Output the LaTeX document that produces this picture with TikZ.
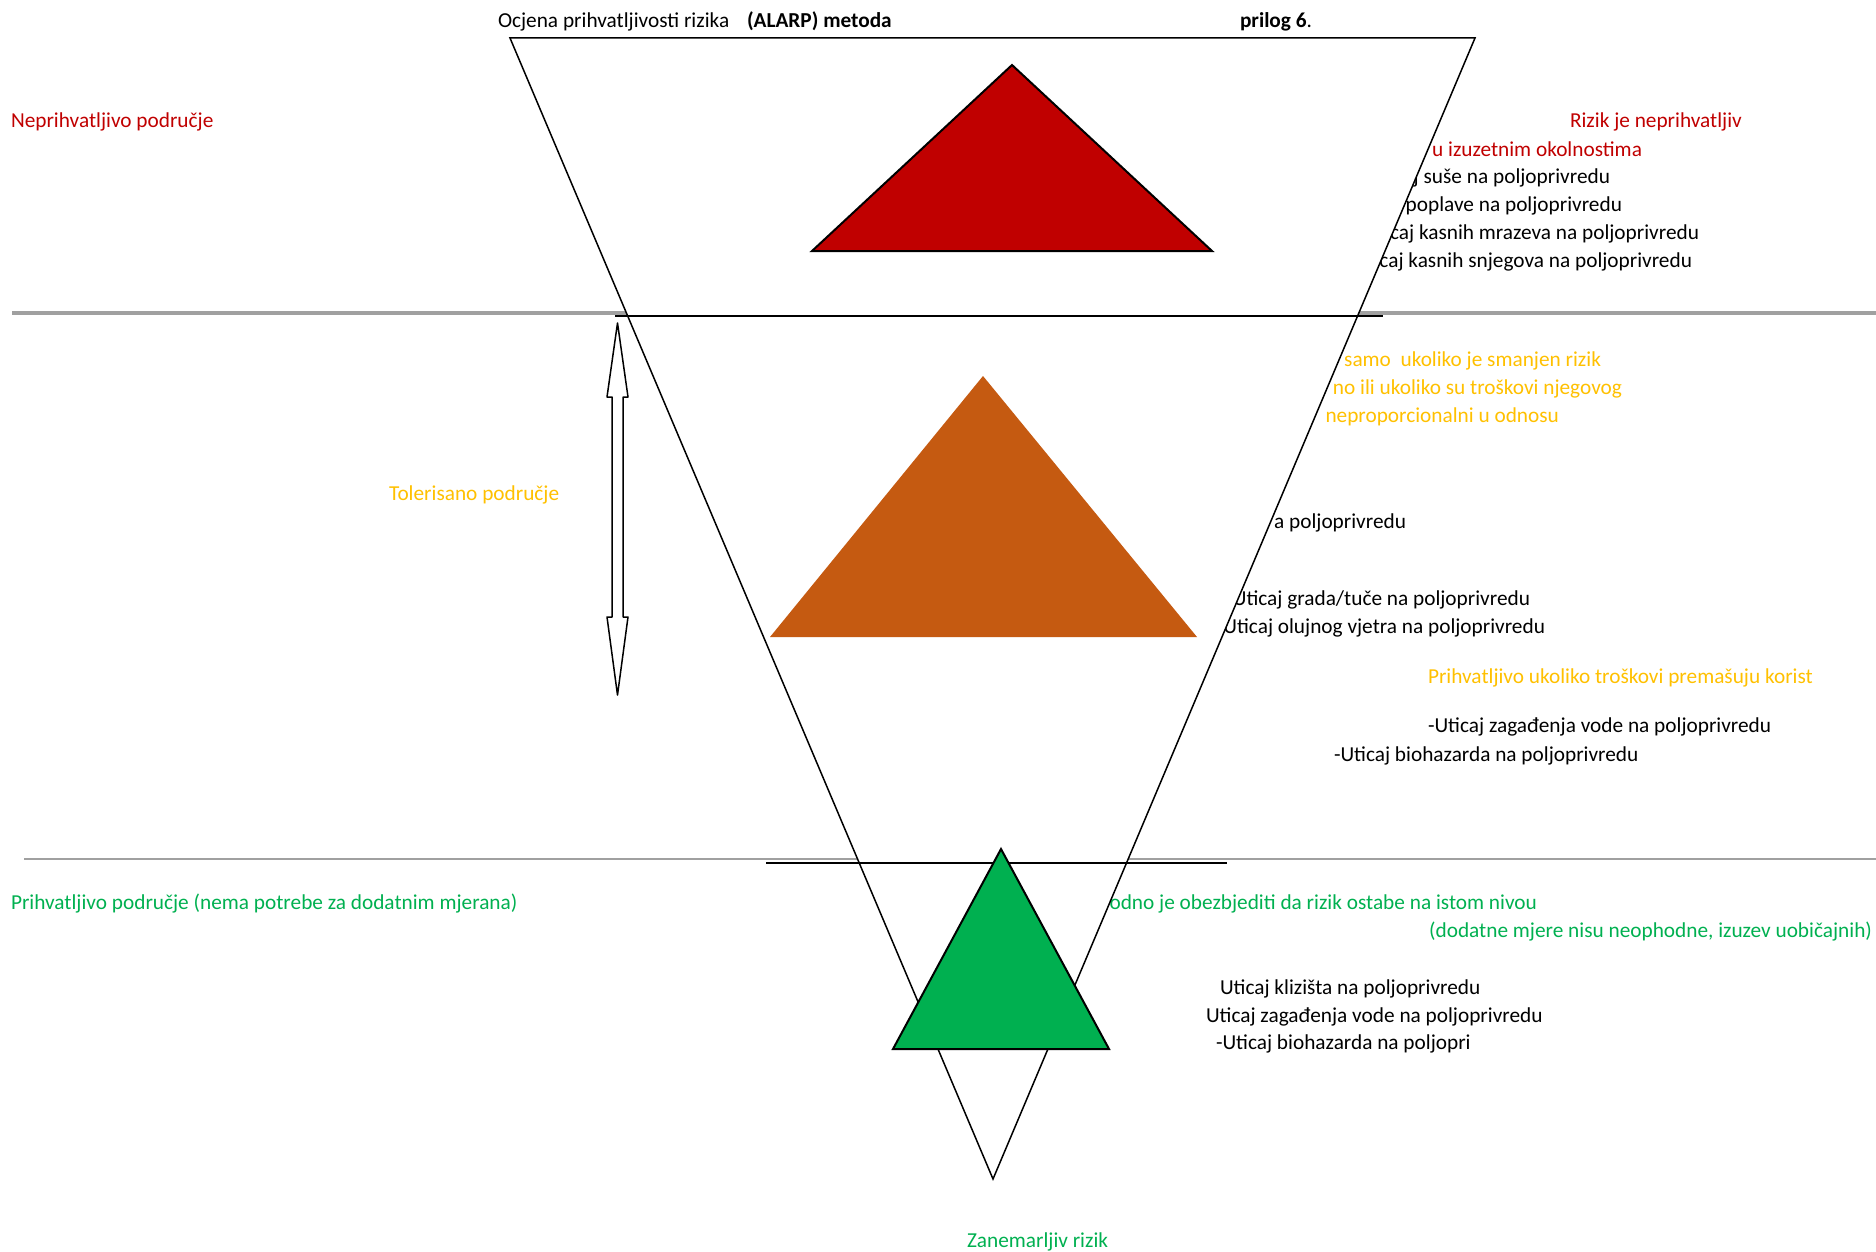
\documentclass[tikz,border=0pt]{standalone}
\usepackage{fontspec}
\setmainfont{Carlito}
\definecolor{riskred}{HTML}{C00000}
\definecolor{tolorange}{HTML}{FFC000}
\definecolor{accgreen}{HTML}{00B050}
\definecolor{midorange}{HTML}{C55A11}
\definecolor{sepgray}{HTML}{A0A0A0}
\begin{document}
\begin{tikzpicture}[x=1pt,y=-1pt,
  font=\fontsize{21.3}{25}\selectfont,
  txt/.style={inner sep=0pt, outer sep=0pt, yshift=-4.5pt},
  lbl/.style={txt, anchor=mid west},
  lblr/.style={txt, anchor=mid east},
  redtxt/.style={text=riskred},
  orgtxt/.style={text=tolorange},
  grntxt/.style={text=accgreen},
  graysep/.style={draw=sepgray},
  blacksep/.style={draw=black, line width=2.5pt},
  outline/.style={draw=black, line width=2pt, line join=miter}]
\useasboundingbox (0,0) rectangle (1876,1252);

% grey separators
\draw[graysep, line width=4pt] (12,313) -- (1876,313);
\draw[graysep, line width=1.5pt] (24,859) -- (1876,859);

% title
\node[lbl] (title) at (498,21) {Ocjena prihvatljivosti rizika};
\node[lbl] (alarp) at (747,21) {\textbf{(ALARP) metoda}};
\node[lbl] (prilog) at (1240,21) {\textbf{prilog 6}.};

% left zone labels
\node[lbl, redtxt] (zone1) at (11,121) {Neprihvatljivo područje};
\node[lbl, orgtxt] (zone2) at (389,494) {Tolerisano područje};
\node[lbl, grntxt] (zone3) at (11,903) {Prihvatljivo područje (nema potrebe za dodatnim mjerana)};
\node[lbl, grntxt] (zone4) at (967,1241) {Zanemarljiv rizik};

% right texts, top zone
\node[lbl, redtxt] (r1) at (1570,121) {Rizik je neprihvatljiv};
\node[lblr, redtxt] (r2) at (1642,150) {u izuzetnim okolnostima};
\node[lblr] (r3) at (1610,177) {j suše na poljoprivredu};
\node[lblr] (r4) at (1622,205) {poplave na poljoprivredu};
\node[lblr] (r5) at (1699,233) {caj kasnih mrazeva na poljoprivredu};
\node[lblr] (r6) at (1692,261) {caj kasnih snjegova na poljoprivredu};

% middle zone
\node[lblr, orgtxt] (t1) at (1601,360) {samo\ \ ukoliko je smanjen rizik};
\node[lblr, orgtxt] (t2) at (1622,388) {no ili ukoliko su troškovi njegovog};
\node[lblr, orgtxt] (t3) at (1559,416) {neproporcionalni u odnosu};
\node[lblr] (t4) at (1406,522) {a poljoprivredu};
\node[lblr] (t5) at (1530,599) {Uticaj grada/tuče na poljoprivredu};
\node[lblr] (t6) at (1545,627) {Uticaj olujnog vjetra na poljoprivredu};
\node[lbl, orgtxt] (t7) at (1428,677) {Prihvatljivo ukoliko troškovi premašuju korist};
\node[lbl] (t8) at (1428,726) {-Uticaj zagađenja vode na poljoprivredu};
\node[lbl] (t9) at (1334,755) {-Uticaj biohazarda na poljoprivredu};

% bottom zone
\node[lblr, grntxt] (a1) at (1537,903) {odno je obezbjediti da rizik ostabe na istom nivou};
\node[lblr, grntxt] (a2) at (1872,931) {(dodatne mjere nisu neophodne, izuzev uobičajnih)};
\node[lbl] (a3) at (1220,988) {Uticaj klizišta na poljoprivredu};
\node[lbl] (a4) at (1206,1016) {Uticaj zagađenja vode na poljoprivredu};
\node[lbl] (a5) at (1216,1043) {-Uticaj biohazarda na poljopri};

% big inverted triangle
\coordinate (itl) at (510,38);
\coordinate (itr) at (1475,38);
\coordinate (itb) at (993,1179);
\filldraw[fill=white, draw=black, line width=1.5pt, line join=miter] (itl) -- (itr) -- (itb) -- cycle;

% black zone lines
\draw[blacksep] (615,316) -- (1383,316);
\draw[blacksep] (766,863) -- (1227,863);

% coloured triangles
\filldraw[fill=riskred, outline] (1012,65) -- (1212,251) -- (812,251) -- cycle;
\fill[midorange] (983,376) -- (1197,637) -- (770,637) -- cycle;
\filldraw[fill=accgreen, outline] (1001,849) -- (1109,1049) -- (893,1049) -- cycle;

% double arrow
\filldraw[fill=white, draw=black, line width=1.5pt, line join=round]
  (617.5,323) -- (628,397) -- (623,397) -- (623,617) -- (628,617) -- (617.5,695)
  -- (607,617) -- (612,617) -- (612,397) -- (607,397) -- cycle;
\end{tikzpicture}
\end{document}
